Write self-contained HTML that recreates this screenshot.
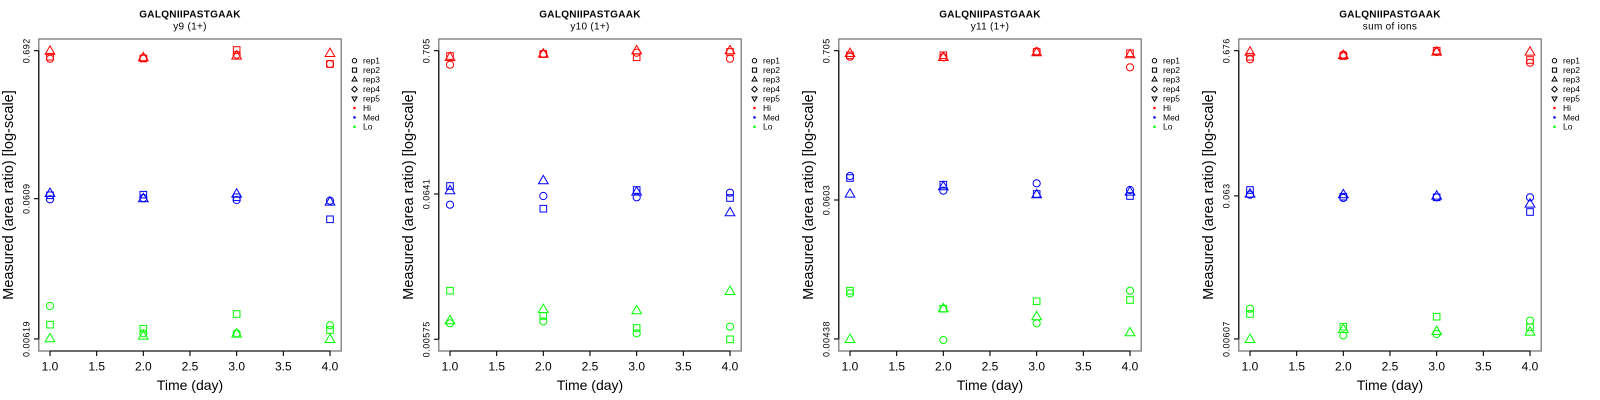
<!DOCTYPE html>
<html><head><meta charset="utf-8"><style>
html,body{margin:0;padding:0;background:#fff;}
svg{display:block;font-family:"Liberation Sans",Arial,sans-serif;}
</style></head><body>
<svg width="1600" height="400" viewBox="0 0 1600 400" xmlns="http://www.w3.org/2000/svg">
<defs>
<circle id="c" cx="0" cy="0" r="3.6"/>
<rect id="s" x="-3.3" y="-3.3" width="6.6" height="6.6"/>
<path id="t" d="M0,-5.6 L4.85,2.8 L-4.85,2.8 Z"/>
<g id="legend">
 <g fill="none" stroke="#000" stroke-width="1">
  <circle cx="354.5" cy="60.7" r="2.2"/>
  <rect x="352.4" y="68" width="4.2" height="4.2"/>
  <path d="M354.5,76.6 L357,81 L352,81 Z"/>
  <path d="M354.5,86.4 L357.3,89.2 L354.5,92 L351.7,89.2 Z"/>
  <path d="M354.5,101.4 L357,97 L352,97 Z"/>
 </g>
 <circle cx="354.5" cy="108" r="1.3" fill="#f00"/>
 <circle cx="354.5" cy="117.4" r="1.3" fill="#00f"/>
 <circle cx="354.5" cy="126.8" r="1.3" fill="#0f0"/>
 <g font-size="8.5" fill="#000">
  <text x="363" y="63.7">rep1</text>
  <text x="363" y="73.1">rep2</text>
  <text x="363" y="82.5">rep3</text>
  <text x="363" y="92">rep4</text>
  <text x="363" y="101.4">rep5</text>
  <text x="363" y="110.9">Hi</text>
  <text x="363" y="120.3">Med</text>
  <text x="363" y="129.7">Lo</text>
 </g>
</g>
<g id="frame">
 <rect x="38.8" y="39" width="302.4" height="312" fill="none" stroke="#7a7a7a" stroke-width="1.3"/>
 <g stroke="#000" stroke-width="1.1" fill="none">
  <line x1="38.8" y1="50.7" x2="38.8" y2="339"/>
  <line x1="50" y1="351" x2="330" y2="351"/>
  <line x1="50" y1="351" x2="50" y2="356"/>
  <line x1="96.67" y1="351" x2="96.67" y2="356"/>
  <line x1="143.33" y1="351" x2="143.33" y2="356"/>
  <line x1="190" y1="351" x2="190" y2="356"/>
  <line x1="236.67" y1="351" x2="236.67" y2="356"/>
  <line x1="283.33" y1="351" x2="283.33" y2="356"/>
  <line x1="330" y1="351" x2="330" y2="356"/>
 </g>
 <g font-size="12" fill="#000" text-anchor="middle">
  <text x="50" y="370.5">1.0</text>
  <text x="96.67" y="370.5">1.5</text>
  <text x="143.33" y="370.5">2.0</text>
  <text x="190" y="370.5">2.5</text>
  <text x="236.67" y="370.5">3.0</text>
  <text x="283.33" y="370.5">3.5</text>
  <text x="330" y="370.5">4.0</text>
 </g>
 <text x="190" y="390" font-size="14" text-anchor="middle" fill="#000">Time (day)</text>
 <text transform="translate(13,195) rotate(-90)" font-size="14.5" text-anchor="middle" fill="#000">Measured (area ratio) [log-scale]</text>
</g>
</defs>

<!-- Panel 1 -->
<g transform="translate(0,0)">
 <text x="190" y="17.5" font-size="10" font-weight="bold" text-anchor="middle" letter-spacing="0.3">GALQNIIPASTGAAK</text>
 <text x="190" y="29.5" font-size="10" text-anchor="middle" letter-spacing="0.3">y9 (1+)</text>
 <use href="#frame"/>
 <g stroke="#000" stroke-width="1.1">
  <line x1="34" y1="50.7" x2="38.8" y2="50.7"/>
  <line x1="34" y1="198.7" x2="38.8" y2="198.7"/>
  <line x1="34" y1="339" x2="38.8" y2="339"/>
 </g>
 <g font-size="9" text-anchor="middle" letter-spacing="0.5">
  <text transform="translate(29.5,50.7) rotate(-90)">0.692</text>
  <text transform="translate(29.5,198.7) rotate(-90)">0.0609</text>
  <text transform="translate(29.5,339) rotate(-90)">0.00619</text>
 </g>
 <g fill="none" stroke="#f00" stroke-width="1">
  <use href="#c" x="50" y="58.7"/><use href="#s" x="50" y="56.7"/><use href="#t" x="50" y="51.5"/>
  <use href="#c" x="143.33" y="58"/><use href="#s" x="143.33" y="58.5"/><use href="#t" x="143.33" y="58"/>
  <use href="#c" x="236.67" y="54.7"/><use href="#s" x="236.67" y="50"/><use href="#t" x="236.67" y="56.3"/>
  <use href="#c" x="330" y="64"/><use href="#s" x="330" y="64"/><use href="#t" x="330" y="53.7"/>
 </g>
 <g fill="none" stroke="#00f" stroke-width="1">
  <use href="#c" x="50" y="199.3"/><use href="#s" x="50" y="195.3"/><use href="#t" x="50" y="193.7"/>
  <use href="#c" x="143.33" y="198"/><use href="#s" x="143.33" y="194.7"/><use href="#t" x="143.33" y="199"/>
  <use href="#c" x="236.67" y="200"/><use href="#s" x="236.67" y="197.3"/><use href="#t" x="236.67" y="194.3"/>
  <use href="#c" x="330" y="200.7"/><use href="#s" x="330" y="219.3"/><use href="#t" x="330" y="202.3"/>
 </g>
 <g fill="none" stroke="#0f0" stroke-width="1">
  <use href="#c" x="50" y="306"/><use href="#s" x="50" y="324.7"/><use href="#t" x="50" y="339"/>
  <use href="#c" x="143.33" y="333.3"/><use href="#s" x="143.33" y="328.7"/><use href="#t" x="143.33" y="336.3"/>
  <use href="#c" x="236.67" y="333.3"/><use href="#s" x="236.67" y="314"/><use href="#t" x="236.67" y="334.3"/>
  <use href="#c" x="330" y="325.3"/><use href="#s" x="330" y="330"/><use href="#t" x="330" y="339.7"/>
 </g>
 <use href="#legend"/>
</g>

<!-- Panel 2 -->
<g transform="translate(400,0)">
 <text x="190" y="17.5" font-size="10" font-weight="bold" text-anchor="middle" letter-spacing="0.3">GALQNIIPASTGAAK</text>
 <text x="190" y="29.5" font-size="10" text-anchor="middle" letter-spacing="0.3">y10 (1+)</text>
 <use href="#frame"/>
 <g stroke="#000" stroke-width="1.1">
  <line x1="34" y1="50.7" x2="38.8" y2="50.7"/>
  <line x1="34" y1="194" x2="38.8" y2="194"/>
  <line x1="34" y1="339.3" x2="38.8" y2="339.3"/>
 </g>
 <g font-size="9" text-anchor="middle" letter-spacing="0.5">
  <text transform="translate(29.5,50.7) rotate(-90)">0.705</text>
  <text transform="translate(29.5,194) rotate(-90)">0.0641</text>
  <text transform="translate(29.5,339.3) rotate(-90)">0.00575</text>
 </g>
 <g fill="none" stroke="#f00" stroke-width="1">
  <use href="#c" x="50" y="64.7"/><use href="#s" x="50" y="56"/><use href="#t" x="50" y="57.7"/>
  <use href="#c" x="143.33" y="54"/><use href="#s" x="143.33" y="54"/><use href="#t" x="143.33" y="54.3"/>
  <use href="#c" x="236.67" y="52.7"/><use href="#s" x="236.67" y="57.3"/><use href="#t" x="236.67" y="51"/>
  <use href="#c" x="330" y="58.7"/><use href="#s" x="330" y="52"/><use href="#t" x="330" y="51"/>
 </g>
 <g fill="none" stroke="#00f" stroke-width="1">
  <use href="#c" x="50" y="204.7"/><use href="#s" x="50" y="186"/><use href="#t" x="50" y="191"/>
  <use href="#c" x="143.33" y="196"/><use href="#s" x="143.33" y="208.7"/><use href="#t" x="143.33" y="181"/>
  <use href="#c" x="236.67" y="197.3"/><use href="#s" x="236.67" y="190"/><use href="#t" x="236.67" y="192.3"/>
  <use href="#c" x="330" y="192.7"/><use href="#s" x="330" y="198"/><use href="#t" x="330" y="213"/>
 </g>
 <g fill="none" stroke="#0f0" stroke-width="1">
  <use href="#c" x="50" y="323.3"/><use href="#s" x="50" y="290.7"/><use href="#t" x="50" y="321"/>
  <use href="#c" x="143.33" y="321.3"/><use href="#s" x="143.33" y="316"/><use href="#t" x="143.33" y="309.7"/>
  <use href="#c" x="236.67" y="333.3"/><use href="#s" x="236.67" y="328"/><use href="#t" x="236.67" y="311"/>
  <use href="#c" x="330" y="326.7"/><use href="#s" x="330" y="339.3"/><use href="#t" x="330" y="291.7"/>
 </g>
 <use href="#legend"/>
</g>

<!-- Panel 3 -->
<g transform="translate(800,0)">
 <text x="190" y="17.5" font-size="10" font-weight="bold" text-anchor="middle" letter-spacing="0.3">GALQNIIPASTGAAK</text>
 <text x="190" y="29.5" font-size="10" text-anchor="middle" letter-spacing="0.3">y11 (1+)</text>
 <use href="#frame"/>
 <g stroke="#000" stroke-width="1.1">
  <line x1="34" y1="50.7" x2="38.8" y2="50.7"/>
  <line x1="34" y1="200" x2="38.8" y2="200"/>
  <line x1="34" y1="339" x2="38.8" y2="339"/>
 </g>
 <g font-size="9" text-anchor="middle" letter-spacing="0.5">
  <text transform="translate(29.5,50.7) rotate(-90)">0.705</text>
  <text transform="translate(29.5,200) rotate(-90)">0.0603</text>
  <text transform="translate(29.5,339) rotate(-90)">0.00438</text>
 </g>
 <g fill="none" stroke="#f00" stroke-width="1">
  <use href="#c" x="50" y="56.7"/><use href="#s" x="50" y="55.3"/><use href="#t" x="50" y="53.7"/>
  <use href="#c" x="143.33" y="57.3"/><use href="#s" x="143.33" y="55.3"/><use href="#t" x="143.33" y="57.7"/>
  <use href="#c" x="236.67" y="51.3"/><use href="#s" x="236.67" y="52"/><use href="#t" x="236.67" y="53"/>
  <use href="#c" x="330" y="67.3"/><use href="#s" x="330" y="53.3"/><use href="#t" x="330" y="55"/>
 </g>
 <g fill="none" stroke="#00f" stroke-width="1">
  <use href="#c" x="50" y="176"/><use href="#s" x="50" y="178"/><use href="#t" x="50" y="194.3"/>
  <use href="#c" x="143.33" y="190.7"/><use href="#s" x="143.33" y="184.7"/><use href="#t" x="143.33" y="187"/>
  <use href="#c" x="236.67" y="183.3"/><use href="#s" x="236.67" y="194"/><use href="#t" x="236.67" y="195"/>
  <use href="#c" x="330" y="190"/><use href="#s" x="330" y="196"/><use href="#t" x="330" y="192.3"/>
 </g>
 <g fill="none" stroke="#0f0" stroke-width="1">
  <use href="#c" x="50" y="293.3"/><use href="#s" x="50" y="290.7"/><use href="#t" x="50" y="339.7"/>
  <use href="#c" x="143.33" y="340"/><use href="#s" x="143.33" y="308.7"/><use href="#t" x="143.33" y="309"/>
  <use href="#c" x="236.67" y="323.3"/><use href="#s" x="236.67" y="301.3"/><use href="#t" x="236.67" y="317"/>
  <use href="#c" x="330" y="290.7"/><use href="#s" x="330" y="300"/><use href="#t" x="330" y="333"/>
 </g>
 <use href="#legend"/>
</g>

<!-- Panel 4 -->
<g transform="translate(1200,0)">
 <text x="190" y="17.5" font-size="10" font-weight="bold" text-anchor="middle" letter-spacing="0.3">GALQNIIPASTGAAK</text>
 <text x="190" y="29.5" font-size="10" text-anchor="middle" letter-spacing="0.3">sum of ions</text>
 <use href="#frame"/>
 <g stroke="#000" stroke-width="1.1">
  <line x1="34" y1="50.7" x2="38.8" y2="50.7"/>
  <line x1="34" y1="195.9" x2="38.8" y2="195.9"/>
  <line x1="34" y1="339" x2="38.8" y2="339"/>
 </g>
 <g font-size="9" text-anchor="middle" letter-spacing="0.5">
  <text transform="translate(29.5,50.7) rotate(-90)">0.676</text>
  <text transform="translate(29.5,195.9) rotate(-90)">0.063</text>
  <text transform="translate(29.5,339) rotate(-90)">0.00607</text>
 </g>
 <g fill="none" stroke="#f00" stroke-width="1">
  <use href="#c" x="50" y="59.3"/><use href="#s" x="50" y="56.7"/><use href="#t" x="50" y="52.3"/>
  <use href="#c" x="143.33" y="54.7"/><use href="#s" x="143.33" y="56"/><use href="#t" x="143.33" y="55.7"/>
  <use href="#c" x="236.67" y="52"/><use href="#s" x="236.67" y="50.7"/><use href="#t" x="236.67" y="52.3"/>
  <use href="#c" x="330" y="62.7"/><use href="#s" x="330" y="60"/><use href="#t" x="330" y="52.3"/>
 </g>
 <g fill="none" stroke="#00f" stroke-width="1">
  <use href="#c" x="50" y="194.7"/><use href="#s" x="50" y="190"/><use href="#t" x="50" y="194.3"/>
  <use href="#c" x="143.33" y="198"/><use href="#s" x="143.33" y="196.7"/><use href="#t" x="143.33" y="195"/>
  <use href="#c" x="236.67" y="197.3"/><use href="#s" x="236.67" y="197.3"/><use href="#t" x="236.67" y="196.3"/>
  <use href="#c" x="330" y="197.3"/><use href="#s" x="330" y="212"/><use href="#t" x="330" y="204.3"/>
 </g>
 <g fill="none" stroke="#0f0" stroke-width="1">
  <use href="#c" x="50" y="308.7"/><use href="#s" x="50" y="314"/><use href="#t" x="50" y="339.7"/>
  <use href="#c" x="143.33" y="335.3"/><use href="#s" x="143.33" y="326.7"/><use href="#t" x="143.33" y="329.7"/>
  <use href="#c" x="236.67" y="334"/><use href="#s" x="236.67" y="316.7"/><use href="#t" x="236.67" y="331.7"/>
  <use href="#c" x="330" y="320.7"/><use href="#s" x="330" y="327.3"/><use href="#t" x="330" y="332.3"/>
 </g>
 <use href="#legend"/>
</g>
</svg>
</body></html>
